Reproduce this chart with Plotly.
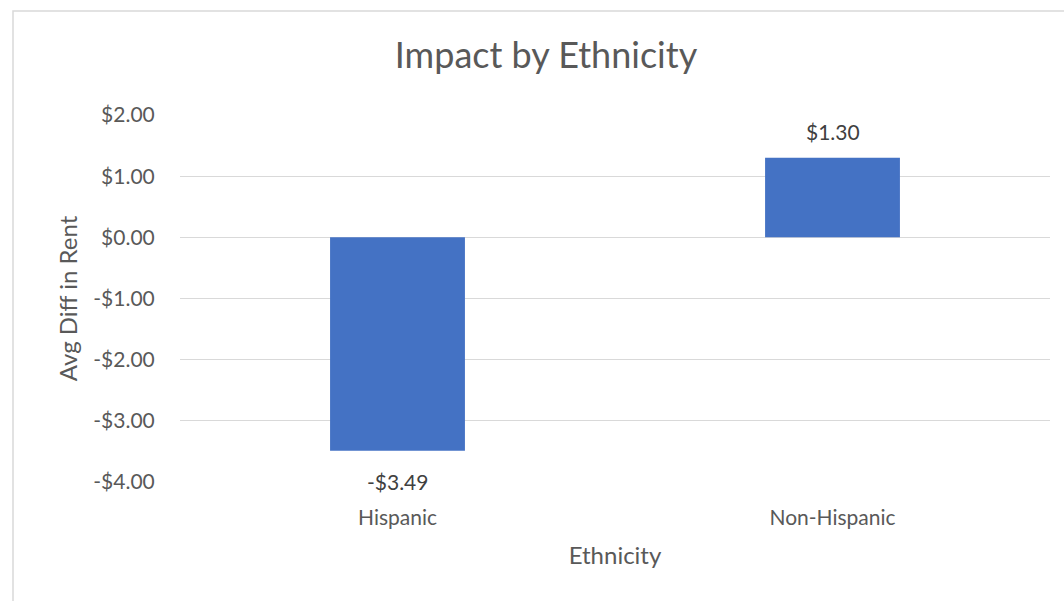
import plotly.graph_objects as go

categories = ["Hispanic", "Non-Hispanic"]
values = [-3.49, 1.30]
tick_vals = [2, 1, 0, -1, -2, -3, -4]
tick_text = ["$2.00", "$1.00", "$0.00", "-$1.00", "-$2.00", "-$3.00", "-$4.00"]

def money(v):
    return ("-$%.2f" % abs(v)) if v < 0 else ("$%.2f" % v)

FONT = "Lato, 'Open Sans', sans-serif"
GREY = "#595959"

fig = go.Figure(go.Bar(x=categories, y=values, marker_color="#4472C4",
                       marker_line_width=0, width=0.31))

for c, v in zip(categories, values):
    fig.add_annotation(x=c, y=v, text=money(v), showarrow=False,
                       yshift=(-31 if v < 0 else 26),
                       font=dict(family=FONT, size=21, color="#404040"))

fig.update_layout(
    width=1064, height=601,
    margin=dict(l=180, r=14, t=115, b=119),
    paper_bgcolor="white", plot_bgcolor="white",
    showlegend=False,
    title=dict(text="Impact by Ethnicity", x=546 / 1064, xanchor="center",
               y=1 - 55 / 601, yanchor="middle",
               font=dict(family=FONT, size=36, color=GREY)),
    font=dict(family=FONT, color=GREY),
    xaxis=dict(title=dict(text="Ethnicity", font=dict(size=24, color=GREY), standoff=18),
               tickfont=dict(size=21, color=GREY), ticks="outside", ticklen=17,
               tickcolor="rgba(0,0,0,0)", showline=False, showgrid=False),
    yaxis=dict(title=dict(text="Avg Diff in Rent", font=dict(size=24, color=GREY), standoff=8),
               range=[-4, 2], tickvals=tick_vals, ticktext=tick_text,
               tickfont=dict(size=21, color=GREY), ticks="outside", ticklen=20,
               tickcolor="rgba(0,0,0,0)",
               showgrid=True, gridcolor="#d9d9d9", gridwidth=1,
               zeroline=True, zerolinecolor="#d9d9d9", zerolinewidth=1),
)

# outer chart border (light grey frame)
fig.add_shape(type="rect", xref="paper", yref="paper",
              x0=(13 - 180) / 870, x1=1.2, y0=-0.6, y1=1 + (115 - 11) / 367,
              line=dict(color="#d9d9d9", width=1.5), layer="below")

fig.write_html("out.html")
